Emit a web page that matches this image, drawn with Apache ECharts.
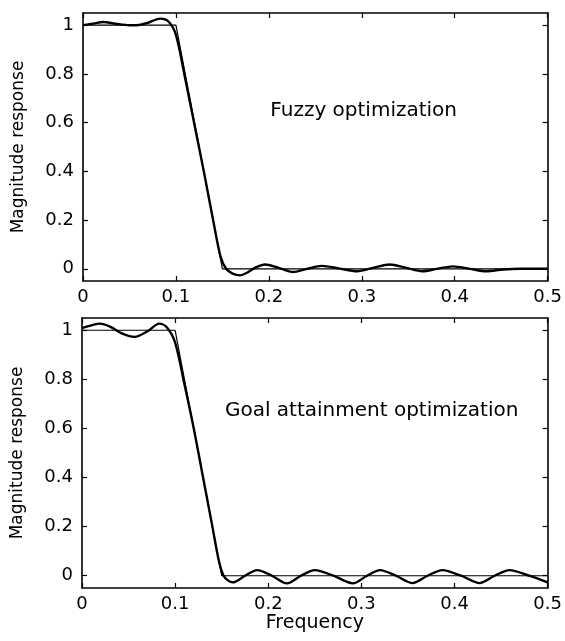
<!DOCTYPE html>
<html>
<head>
<meta charset="utf-8">
<script src="https://cdn.jsdelivr.net/npm/echarts@6/dist/echarts.min.js"></script>
<style>
  html, body { margin: 0; padding: 0; background: #fff; }
  #main { width: 565px; height: 641px; }
</style>
</head>
<body>
<div id="main"></div>
<script>
// ideal (desired) lowpass response, shared by both panels
const idealFreq = [0, 0.1, 0.15, 0.5];
const idealMag = [1, 1, 0, 0];

// fuzzy optimization result (top panel)
const fuzzyFreq = [0, 0.01, 0.022, 0.035, 0.05, 0.058, 0.07, 0.083, 0.092, 0.1, 0.11, 0.12, 0.13, 0.14, 0.148, 0.154,
  0.161, 0.169, 0.177, 0.186, 0.196, 0.21, 0.226, 0.241, 0.257, 0.275, 0.295, 0.312, 0.33, 0.348, 0.365, 0.381, 0.398,
  0.416, 0.434, 0.452, 0.47, 0.5];
const fuzzyMag = [1.0, 1.006, 1.013, 1.006, 1.0, 1.0, 1.01, 1.027, 1.015, 0.96, 0.78, 0.59, 0.4, 0.2, 0.05, 0.0,
  -0.02, -0.027, -0.015, 0.006, 0.018, 0.005, -0.013, 0.0, 0.012, 0.002, -0.01, 0.004, 0.018, 0.004, -0.01, 0.0, 0.01,
  0.0, -0.01, -0.003, 0.0, 0.0];

// goal attainment optimization result (bottom panel)
const goalFreq = [0, 0.01, 0.019, 0.03, 0.044, 0.0565, 0.07, 0.083, 0.091, 0.1, 0.11, 0.12, 0.13, 0.14, 0.147, 0.152,
  0.157, 0.162, 0.175, 0.188, 0.204, 0.22, 0.235, 0.25, 0.27, 0.291, 0.306, 0.32, 0.337, 0.355, 0.371, 0.387, 0.407,
  0.427, 0.443, 0.459, 0.48, 0.5];
const goalMag = [1.009, 1.02, 1.027, 1.015, 0.985, 0.973, 0.995, 1.027, 1.012, 0.95, 0.78, 0.6, 0.4, 0.2, 0.06, 0.0,
  -0.02, -0.027, 0.0, 0.023, 0.0, -0.031, 0.0, 0.023, 0.0, -0.031, 0.0, 0.023, 0.0, -0.03, 0.0, 0.023, 0.0,
  -0.03, 0.0, 0.023, 0.0, -0.027];

const yTicks = [0, 0.2, 0.4, 0.6, 0.8, 1];

const notes = [
  { text: 'Fuzzy optimization', at: [0.302, 0.65] },
  { text: 'Goal attainment optimization', at: [0.311, 0.67] }
];

function zip(xs, ys) {
  return xs.map((x, i) => [x, ys[i]]);
}

const font = 'DejaVu Sans';
const axisLine = { show: true, onZero: false, lineStyle: { color: '#000', width: 1.6 } };

function xAxisFor(grid, pos, withLabels, name) {
  return {
    type: 'value', gridIndex: grid, position: pos,
    min: 0, max: 0.5, interval: 0.1,
    axisLine: axisLine,
    axisTick: { show: true, inside: true, length: 5, lineStyle: { color: '#000', width: 1.2 } },
    axisLabel: {
      show: withLabels, margin: 7, color: '#000', fontFamily: font, fontSize: 18,
      formatter: v => String(+v.toFixed(1))
    },
    splitLine: { show: false },
    name: name || '', nameLocation: 'middle', nameGap: 25,
    nameTextStyle: { color: '#000', fontFamily: font, fontSize: 19 }
  };
}

function yAxisFor(grid, pos, withLabels) {
  return {
    type: 'value', gridIndex: grid, position: pos,
    min: -0.05, max: 1.05,
    axisLine: axisLine,
    axisTick: { show: true, inside: true, length: 5, customValues: yTicks, lineStyle: { color: '#000', width: 1.2 } },
    axisLabel: {
      show: withLabels, customValues: yTicks, margin: 9, color: '#000', fontFamily: font, fontSize: 18,
      formatter: v => String(+v.toFixed(1))
    },
    splitLine: { show: false },
    name: withLabels ? 'Magnitude response' : '', nameLocation: 'middle', nameGap: 56,
    nameTextStyle: { color: '#000', fontFamily: font, fontSize: 17 }
  };
}

function panelSeries(grid, freq, mag, note) {
  return [
    {
      type: 'line', xAxisIndex: grid * 2, yAxisIndex: grid * 2,
      data: zip(idealFreq, idealMag), symbol: 'none',
      lineStyle: { color: '#000', width: 1.2 }
    },
    {
      type: 'line', xAxisIndex: grid * 2, yAxisIndex: grid * 2,
      data: zip(freq, mag), symbol: 'none', smooth: 0.3,
      lineStyle: { color: '#000', width: 2.4 }
    },
    {
      type: 'scatter', xAxisIndex: grid * 2, yAxisIndex: grid * 2,
      data: [note.at], symbolSize: 0, silent: true,
      itemStyle: { opacity: 1, color: '#000' },
      label: {
        show: true, position: 'inside', formatter: note.text, opacity: 1,
        color: '#000', fontFamily: font, fontSize: 20
      }
    }
  ];
}

const chart = echarts.init(document.getElementById('main'), null, { renderer: 'canvas' });

chart.setOption({
  animation: false,
  backgroundColor: '#fff',
  grid: [
    { left: 83, top: 13, width: 465, height: 268 },
    { left: 82, top: 318, width: 466, height: 270 }
  ],
  xAxis: [
    xAxisFor(0, 'bottom', true),
    xAxisFor(0, 'top', false),
    xAxisFor(1, 'bottom', true, 'Frequency'),
    xAxisFor(1, 'top', false)
  ],
  yAxis: [
    yAxisFor(0, 'left', true),
    yAxisFor(0, 'right', false),
    yAxisFor(1, 'left', true),
    yAxisFor(1, 'right', false)
  ],
  series: [].concat(
    panelSeries(0, fuzzyFreq, fuzzyMag, notes[0]),
    panelSeries(1, goalFreq, goalMag, notes[1])
  )
});
</script>
</body>
</html>
